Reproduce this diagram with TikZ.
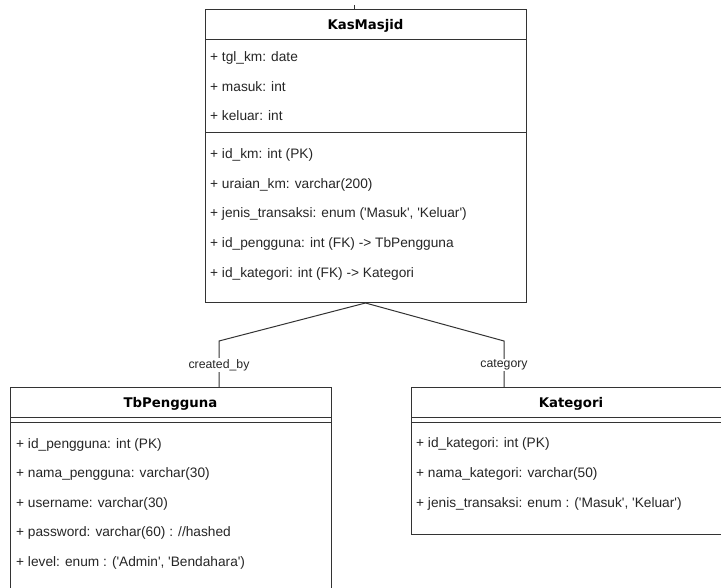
\documentclass[tikz,border=0pt]{standalone}
\usepackage{fontspec}
\setmainfont{Liberation Sans}
\newfontfamily\headfont{DejaVu Sans}
\usepackage{tikz}
\definecolor{umlline}{HTML}{333333}
\newcommand{\sq}{\textquotesingle}

\begin{document}
\begin{tikzpicture}[x=1pt,y=-1pt,
  umlbox/.style={draw=umlline,line width=1pt,fill=white,inner sep=0pt,outer sep=0pt,anchor=north west},
  headtxt/.style={anchor=base,inner sep=0pt,font=\headfont\bfseries\fontsize{13.3}{15}\selectfont},
  rowtxt/.style={anchor=base west,inner sep=0pt,text=black!85,font=\fontsize{13.7}{15}\selectfont},
  link/.style={draw=umlline,line width=1pt},
  lbl/.style={fill=white,inner sep=1pt,text=black!85,font=\fontsize{12.3}{14}\selectfont}]
\useasboundingbox (0,0) rectangle (721,588);

% KasMasjid
\node[umlbox,minimum width=321pt,minimum height=293pt] (kas) at (205,10) {};
\node[headtxt] (kasT) at (365.5,30) {KasMasjid};
\draw[link] (kas.west |- 0,40) -- (kas.east |- 0,40);
\draw[link] (kas.west |- 0,133) -- (kas.east |- 0,133);
\foreach \yy/\txt in {62/{+ tgl\_km: date},91.5/{+ masuk: int},121/{+ keluar: int}}
  \node[rowtxt] at (210,\yy) {\txt};
\foreach \yy/\txt in {159/{+ id\_km: int (PK)},188.5/{+ uraian\_km: varchar(200)},
  218/{+ jenis\_transaksi: enum (\sq Masuk\sq, \sq Keluar\sq)},
  248/{+ id\_pengguna: int (FK) -> TbPengguna},277.5/{+ id\_kategori: int (FK) -> Kategori}}
  \node[rowtxt] at (210,\yy) {\txt};
\coordinate (tk) at (354,5); \draw[link] (tk) -- (tk |- kas.north);

% TbPengguna
\node[umlbox,minimum width=321pt,minimum height=215pt] (peng) at (10,387) {};
\node[headtxt] (pengT) at (170.5,407) {TbPengguna};
\draw[link] (peng.west |- 0,417) -- (peng.east |- 0,417);
\draw[link] (peng.west |- 0,422) -- (peng.east |- 0,422);
\foreach \yy/\txt in {448/{+ id\_pengguna: int (PK)},477.5/{+ nama\_pengguna: varchar(30)},
  507/{+ username: varchar(30)},536.5/{+ password: varchar(60) : //hashed},
  566/{+ level: enum : (\sq Admin\sq, \sq Bendahara\sq)}}
  \node[rowtxt] at (16,\yy) {\txt};

% Kategori
\node[umlbox,minimum width=320pt,minimum height=147pt] (kat) at (411,387) {};
\node[headtxt] (katT) at (571,407) {Kategori};
\draw[link] (kat.west |- 0,417) -- (kat.east |- 0,417);
\draw[link] (kat.west |- 0,422) -- (kat.east |- 0,422);
\foreach \yy/\txt in {447/{+ id\_kategori: int (PK)},477/{+ nama\_kategori: varchar(50)},
  507/{+ jenis\_transaksi: enum : (\sq Masuk\sq, \sq Keluar\sq)}}
  \node[rowtxt] at (416,\yy) {\txt};

% relations
\coordinate (lk) at (219,341); \coordinate (rk) at (504,341);
\draw[link] (kas.south) -- (lk) -- (lk |- peng.north);
\draw[link] (kas.south) -- (rk) -- (rk |- kat.north);
\node[lbl] (lblA) at (219,365) {created\_by};
\node[lbl] (lblB) at (504,365) {category};
\end{tikzpicture}
\end{document}
